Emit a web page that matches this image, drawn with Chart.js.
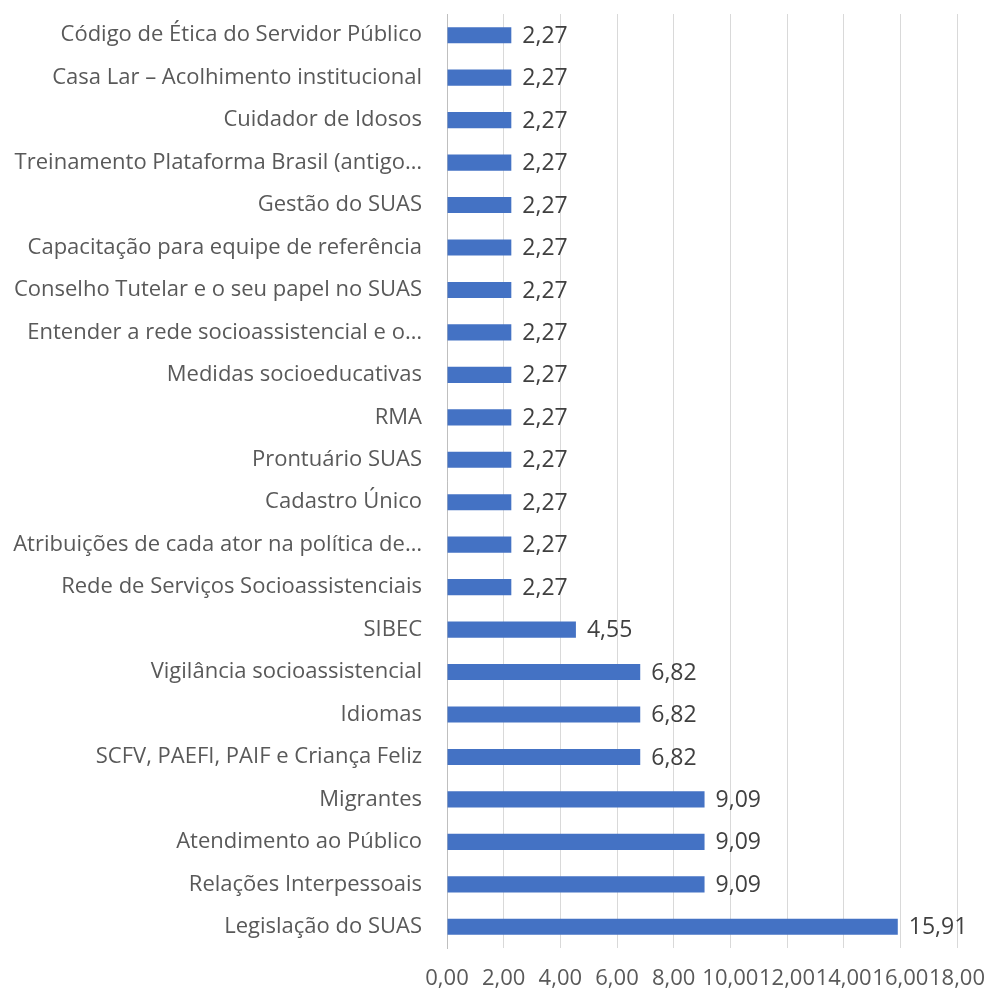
<!DOCTYPE html>
<html>
<head>
<meta charset="utf-8">
<script src="https://cdn.jsdelivr.net/npm/chart.js@4"></script>
<style>
  html, body { margin: 0; padding: 0; background: #fff; }
  #wrap { width: 987px; height: 988px; }
</style>
</head>
<body>
<div id="wrap"><canvas id="chart" width="987" height="988"></canvas></div>
<script>
// --- Data ---
const categories = [
  "Código de Ética do Servidor Público",
  "Casa Lar – Acolhimento institucional",
  "Cuidador de Idosos",
  "Treinamento Plataforma Brasil (antigo…",
  "Gestão do SUAS",
  "Capacitação para equipe de referência",
  "Conselho Tutelar e o seu papel no SUAS",
  "Entender a rede socioassistencial e o…",
  "Medidas socioeducativas",
  "RMA",
  "Prontuário SUAS",
  "Cadastro Único",
  "Atribuições de cada ator na política de…",
  "Rede de Serviços Socioassistenciais",
  "SIBEC",
  "Vigilância socioassistencial",
  "Idiomas",
  "SCFV, PAEFI, PAIF e Criança Feliz",
  "Migrantes",
  "Atendimento ao Público",
  "Relações Interpessoais",
  "Legislação do SUAS",
];
const percentages = [
  2.27, 2.27, 2.27, 2.27, 2.27, 2.27, 2.27, 2.27, 2.27, 2.27, 2.27,
  2.27, 2.27, 2.27, 4.55, 6.82, 6.82, 6.82, 9.09, 9.09, 9.09, 15.91,
];
const xTicks = [0, 2, 4, 6, 8, 10, 12, 14, 16, 18];

const fmt = (v) => v.toFixed(2).replace(".", ",");
const FONT = "'Open Sans', 'Noto Sans', sans-serif";

// --- Value labels at bar ends ---
const valueLabels = {
  id: "valueLabels",
  afterDatasetsDraw(chart) {
    const ctx = chart.ctx;
    const meta = chart.getDatasetMeta(0);
    ctx.save();
    ctx.font = "23px " + FONT;
    ctx.fillStyle = "#404040";
    ctx.textAlign = "left";
    ctx.textBaseline = "middle";
    meta.data.forEach((bar, i) => {
      ctx.fillText(fmt(percentages[i]), bar.x + 11, bar.y + 1);
    });
    ctx.restore();
  },
};

new Chart(document.getElementById("chart"), {
  type: "bar",
  data: {
    labels: categories,
    datasets: [
      {
        data: percentages,
        backgroundColor: "#4472C4",
        barPercentage: 0.38,
        categoryPercentage: 1,
      },
    ],
  },
  options: {
    indexAxis: "y",
    responsive: false,
    animation: false,
    layout: { padding: { top: 0, right: 30, bottom: 0, left: 0 } },
    plugins: {
      legend: { display: false },
      tooltip: { enabled: false },
    },
    scales: {
      x: {
        min: 0,
        max: 18,
        afterBuildTicks: (scale) => {
          scale.ticks = xTicks.map((v) => ({ value: v }));
        },
        afterFit: (scale) => {
          scale.height = 40;
        },
        grid: {
          color: "#d9d9d9",
          lineWidth: 1,
          drawTicks: true,
          tickLength: 18,
          tickColor: "rgba(0,0,0,0)",
        },
        border: { display: false },
        ticks: {
          padding: 0,
          maxRotation: 0,
          autoSkip: false,
          color: "#595959",
          font: { family: FONT, size: 22 },
          callback: (v) => fmt(v),
        },
      },
      y: {
        afterFit: (scale) => {
          scale.width = 447;
        },
        grid: {
          display: true,
          drawOnChartArea: false,
          drawTicks: true,
          tickLength: 22,
          tickColor: "rgba(0,0,0,0)",
        },
        border: { display: true, color: "#bfbfbf", width: 1 },
        ticks: {
          padding: 3,
          autoSkip: false,
          color: "#595959",
          font: { family: FONT, size: 22, lineHeight: 1 },
        },
      },
    },
  },
  plugins: [valueLabels],
});
</script>
</body>
</html>
